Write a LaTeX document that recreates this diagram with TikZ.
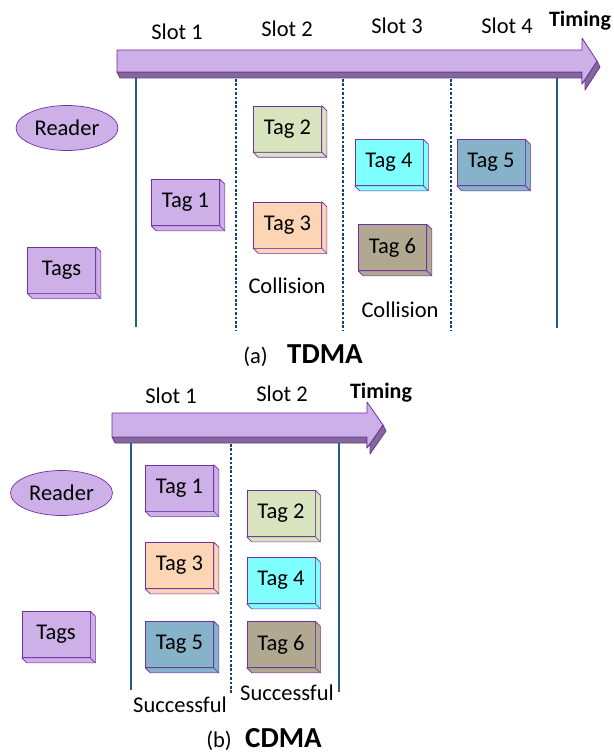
\documentclass[tikz,border=0pt]{standalone}
\usepackage{fontspec}
\setmainfont{Carlito}
\usepackage{xcolor}
\usepackage{tikz}
\usetikzlibrary{shapes.geometric}

\definecolor{tagedge}{RGB}{112,48,160}
\definecolor{lilac}{RGB}{206,176,232}
\definecolor{lilacdark}{RGB}{128,106,150}
\definecolor{sage}{RGB}{215,228,189}
\definecolor{peach}{RGB}{252,213,181}
\definecolor{aqua}{RGB}{128,255,255}
\definecolor{steel}{RGB}{134,179,202}
\definecolor{tagkhaki}{RGB}{176,168,145}
\definecolor{slotline}{RGB}{44,90,135}
\definecolor{slotdots}{RGB}{24,68,112}

\tikzset{
 lbl/.style={font=\fontsize{22.5}{26}\selectfont, inner sep=0pt, anchor=base},
 timelbl/.style={font=\fontsize{22}{26}\selectfont\bfseries, inner sep=0pt, anchor=base},
 caplbl/.style={font=\fontsize{29}{33}\selectfont\bfseries, inner sep=0pt, anchor=base west},
 tagbox/.style={draw=tagedge, line width=0.7pt, minimum width=68pt, minimum height=46pt, inner sep=0pt, font=\fontsize{22.5}{26}\selectfont},
 readerell/.style={ellipse, draw=tagedge, line width=0.7pt, fill=lilac, minimum width=102pt, minimum height=45pt, inner sep=0pt, font=\fontsize{22.5}{26}\selectfont},
 solidsep/.style={slotline, line width=2.2pt},
 dotsep/.style={slotdots, line width=2.4pt, dash pattern=on 2.6pt off 1.8pt},
 arrowface/.style={fill=lilac, draw=tagedge, line width=0.8pt, line join=round},
 arrowside/.style={fill=lilacdark, draw=tagedge, line width=0.8pt, line join=round}
}

% right and bottom faces of a tag
\newcommand{\tagdepth}[2]{
 \filldraw [fill=#2, draw=tagedge, line width=0.7pt, line join=round] (#1.north east) -- ([shift={(5,5)}]#1.north east) -- ([shift={(5,5)}]#1.south east) -- ([shift={(5,5)}]#1.south west) -- (#1.south west) -- (#1.south east) -- cycle;
 \draw [tagedge, line width=0.7pt] (#1.south east) -- ([shift={(5,5)}]#1.south east);
}

\begin{document}
\begin{tikzpicture}[x=1pt, y=-1pt]
 \useasboundingbox (0,0) rectangle (613,754);

 % (a) TDMA
 \filldraw [arrowside] (117,72) -- (582,72) -- (582,84) -- (597,61) -- (600,67) -- (585,90) -- (585,78) -- (120,78) -- cycle;
 \filldraw [arrowface] (117,50) -- (582,50) -- (582,38) -- (597,61) -- (582,84) -- (582,72) -- (117,72) -- cycle;

 \node [lbl] (a-s1) at (177,40) {Slot 1};
 \node [lbl] (a-s2) at (287,37) {Slot 2};
 \node [lbl] (a-s3) at (397,34) {Slot 3};
 \node [lbl] (a-s4) at (507,34) {Slot 4};
 \node [timelbl] (a-time) at (580,27) {Timing};

 \coordinate (a-l0t) at (136,78);  \coordinate (a-l0b) at (136,327);
 \coordinate (a-l1t) at (236,79);  \coordinate (a-l1b) at (236,330);
 \coordinate (a-l2t) at (343,79);  \coordinate (a-l2b) at (343,330);
 \coordinate (a-l3t) at (451,79);  \coordinate (a-l3b) at (451,330);
 \coordinate (a-l4t) at (557,78);  \coordinate (a-l4b) at (557,328);
 \draw [solidsep] (a-l0t) -- (a-l0b);
 \draw [dotsep] (a-l1t) -- (a-l1b);
 \draw [dotsep] (a-l2t) -- (a-l2b);
 \draw [dotsep] (a-l3t) -- (a-l3b);
 \draw [solidsep] (a-l4t) -- (a-l4b);

 \node [readerell] (a-reader) at (67,128) {Reader};
 \node [tagbox, fill=lilac] (a-tags) at (61.5,270) {Tags};      \tagdepth{a-tags}{lilac}
 \node [tagbox, fill=lilac] (a-tag1) at (185.5,202.5) {Tag 1};  \tagdepth{a-tag1}{lilac}
 \node [tagbox, fill=sage] (a-tag2) at (287.5,129) {Tag 2};     \tagdepth{a-tag2}{sage}
 \node [tagbox, fill=peach] (a-tag3) at (287.5,225) {Tag 3};    \tagdepth{a-tag3}{peach}
 \node [tagbox, fill=aqua] (a-tag4) at (389,162.5) {Tag 4};     \tagdepth{a-tag4}{aqua}
 \node [tagbox, fill=steel] (a-tag5) at (491,162.5) {Tag 5};    \tagdepth{a-tag5}{steel}
 \node [tagbox, fill=tagkhaki] (a-tag6) at (392.5,247.5) {Tag 6}; \tagdepth{a-tag6}{tagkhaki}

 \node [lbl] (a-coll1) at (287,293) {Collision};
 \node [lbl] (a-coll2) at (400,317) {Collision};
 \node [lbl, anchor=base east] (a-cap) at (268,363) {(a)};
 \node [caplbl] (a-name) at (287,363) {TDMA};

 % (b) CDMA
 \filldraw [arrowside] (112,437) -- (367,437) -- (367,448) -- (383,425) -- (386,431) -- (370,454) -- (370,443) -- (115,443) -- cycle;
 \filldraw [arrowface] (112,413) -- (367,413) -- (367,402) -- (383,425) -- (367,448) -- (367,437) -- (112,437) -- cycle;

 \node [lbl] (b-s1) at (171,403) {Slot 1};
 \node [lbl] (b-s2) at (282,401) {Slot 2};
 \node [timelbl] (b-time) at (381,398) {Timing};

 \coordinate (b-l0t) at (131,443);  \coordinate (b-l0b) at (131,690);
 \coordinate (b-l1t) at (231,444);  \coordinate (b-l1b) at (231,693);
 \coordinate (b-l2t) at (339,443);  \coordinate (b-l2b) at (339,692);
 \draw [solidsep] (b-l0t) -- (b-l0b);
 \draw [dotsep] (b-l1t) -- (b-l1b);
 \draw [solidsep] (b-l2t) -- (b-l2b);

 \node [readerell] (b-reader) at (61.5,493) {Reader};
 \node [tagbox, fill=lilac] (b-tags) at (56,634.5) {Tags};      \tagdepth{b-tags}{lilac}
 \node [tagbox, fill=lilac] (b-tag1) at (179.5,488) {Tag 1};    \tagdepth{b-tag1}{lilac}
 \node [tagbox, fill=peach] (b-tag3) at (179.5,565.5) {Tag 3};  \tagdepth{b-tag3}{peach}
 \node [tagbox, fill=steel] (b-tag5) at (179.5,644.5) {Tag 5};  \tagdepth{b-tag5}{steel}
 \node [tagbox, fill=sage] (b-tag2) at (281,513.5) {Tag 2};     \tagdepth{b-tag2}{sage}
 \node [tagbox, fill=aqua] (b-tag4) at (281,580.5) {Tag 4};     \tagdepth{b-tag4}{aqua}
 \node [tagbox, fill=tagkhaki] (b-tag6) at (281,644.5) {Tag 6}; \tagdepth{b-tag6}{tagkhaki}

 \node [lbl] (b-succ1) at (180,712) {Successful};
 \node [lbl] (b-succ2) at (287,700) {Successful};
 \node [lbl, anchor=base east] (b-cap) at (232,747) {(b)};
 \node [caplbl] (b-name) at (245,747) {CDMA};
\end{tikzpicture}
\end{document}
